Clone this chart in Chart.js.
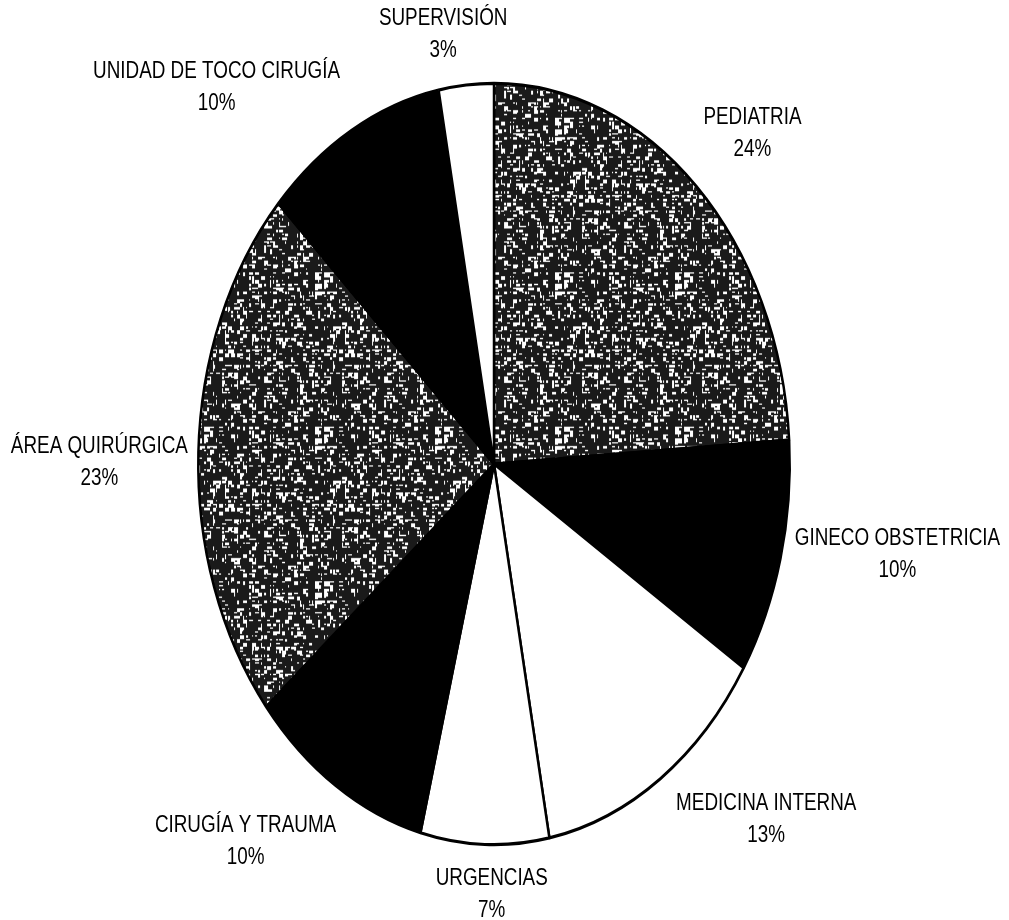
<!DOCTYPE html>
<html>
<head>
<meta charset="utf-8">
<title>Personal por servicio</title>
<script src="https://cdn.jsdelivr.net/npm/chart.js@4/dist/chart.umd.min.js"></script>
<style>
  html, body { margin: 0; padding: 0; background: #fff; }
  #wrap { width: 1009px; height: 920px; }
</style>
</head>
<body>
<div id="wrap"><canvas id="pastel" width="1009" height="920"></canvas></div>
<script>
// servicios y porcentaje de personal
const servicios = ['PEDIATRIA', 'GINECO OBSTETRICIA', 'MEDICINA INTERNA', 'URGENCIAS',
  'CIRUGÍA Y TRAUMA', 'ÁREA QUIRÚRGICA', 'UNIDAD DE TOCO CIRUGÍA', 'SUPERVISIÓN'];
const porcentajes = [24, 10, 13, 7, 10, 23, 10, 3];
const tonos = ['gris', 'negro', 'blanco', 'blanco', 'negro', 'gris', 'negro', 'blanco'];

// el pastel sale ovalado: se estira en vertical
const estiramiento = 381 / 296;

// desplazamiento de cada etiqueta desde el borde de su rebanada
const desplazamientos = [[56, -53], [117, -4], [106, 41], [7, 50], [-90, 56], [-99, 11], [-135, -43], [-23, -50]];

// letra angosta: Liberation Sans comprimida a lo ancho
const angosto = 0.82;

function ruido(x, y) {
  let v = Math.sin(x * 12.9898 + y * 78.233) * 43758.5453;
  return v - Math.floor(v);
}

// trama granulada para las rebanadas grises
function trama() {
  const n = 120;
  const c = document.createElement('canvas');
  c.width = n; c.height = n;
  const g = c.getContext('2d');
  g.fillStyle = '#1a1a1a';
  g.fillRect(0, 0, n, n);
  g.fillStyle = '#ffffff';
  for (let y = 0; y < n; y += 3) {
    for (let x = 0; x < n; x += 3) {
      const v = ruido(x, y);
      if (v > 0.6) {
        const w = 1 + Math.floor(ruido(y, x) * 4);
        const h = 1 + Math.floor(ruido(x + 7, y + 3) * 3);
        g.fillRect(x, y, w, h);
      }
    }
  }
  return g.createPattern(c, 'repeat');
}

const patron = trama();
const colores = tonos.map(t => t === 'gris' ? patron : (t === 'negro' ? '#000000' : '#ffffff'));

const ovalo = {
  id: 'ovalo',
  beforeDatasetsDraw(chart) {
    const arco = chart.getDatasetMeta(0).data[0];
    const ctx = chart.ctx;
    ctx.save();
    ctx.translate(arco.x, arco.y);
    ctx.scale(1, estiramiento);
    ctx.translate(-arco.x, -arco.y);
  },
  afterDatasetsDraw(chart) {
    chart.ctx.restore();
  }
};

const etiquetas = {
  id: 'etiquetas',
  afterDraw(chart) {
    const ctx = chart.ctx;
    chart.getDatasetMeta(0).data.forEach((arco, i) => {
      const medio = (arco.startAngle + arco.endAngle) / 2;
      const x = arco.x + arco.outerRadius * Math.cos(medio) + desplazamientos[i][0];
      const y = arco.y + estiramiento * arco.outerRadius * Math.sin(medio) + desplazamientos[i][1];
      ctx.save();
      ctx.translate(x, y);
      ctx.scale(angosto, 1);
      ctx.fillStyle = '#000';
      ctx.font = '23px "Liberation Sans", Arial, sans-serif';
      ctx.textAlign = 'center';
      ctx.textBaseline = 'middle';
      ctx.fillText(servicios[i], 0, -16);
      ctx.fillText(porcentajes[i] + '%', 0, 16);
      ctx.restore();
    });
  }
};

new Chart(document.getElementById('pastel'), {
  type: 'pie',
  data: {
    labels: servicios,
    datasets: [{
      data: porcentajes,
      backgroundColor: colores,
      borderColor: '#000000',
      borderWidth: 2.5,
      clip: false
    }]
  },
  options: {
    responsive: false,
    animation: false,
    layout: { padding: { left: 197, right: 218, top: 167, bottom: 159 } },
    plugins: {
      legend: { display: false },
      tooltip: { enabled: false }
    }
  },
  plugins: [ovalo, etiquetas]
});
</script>
</body>
</html>
